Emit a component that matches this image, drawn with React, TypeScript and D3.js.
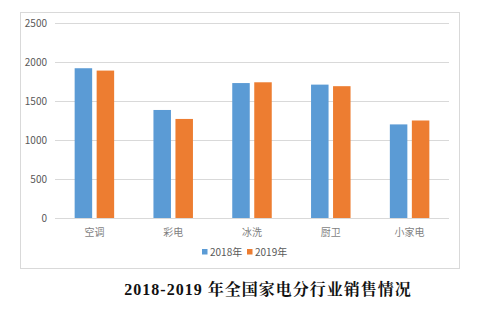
import React from "react";
import * as d3 from "d3";

const categories = ["空调", "彩电", "冰洗", "厨卫", "小家电"];
const series2018 = [1920, 1385, 1730, 1710, 1200];
const series2019 = [1890, 1270, 1740, 1690, 1250];
const seriesNames = ["2018年", "2019年"];
const yTicks = [0, 500, 1000, 1500, 2000, 2500];
const title = "2018-2019 年全国家电分行业销售情况";

const colors = ["#5B9BD5", "#ED7D31"];

export default function App() {
  const W = 498, H = 322;
  const left = 55, right = 449, top = 23, bottom = 218;
  const x0 = d3.scaleBand().domain(categories).range([left, right]).paddingInner(0).paddingOuter(0);
  const y = d3.scaleLinear().domain([0, 2500]).range([bottom, top]);
  const barW = 17.5;
  const gap = 4.5;
  const all = [series2018, series2019];
  const font = "'Microsoft YaHei', 'Noto Sans CJK SC', 'Noto Sans', sans-serif";
  return (
    <div style={{ position: "absolute", left: 0, top: 0 }}>
      <svg width={W} height={H} style={{ display: "block" }}>
        <rect x={0} y={0} width={W} height={H} fill="#fff" />
        <rect x={20.5} y={12.5} width={439} height={256} fill="#fff" stroke="#D9D9D9" strokeWidth={1} />
        {yTicks.map((t) => (
          <g key={t}>
            <line x1={left} x2={right} y1={Math.round(y(t)) + 0.5} y2={Math.round(y(t)) + 0.5} stroke="#D9D9D9" strokeWidth={1} />
            <text x={47} y={y(t)} dy="0.35em" textAnchor="end" fontSize={10} fill="#595959" fontFamily={font}>{t}</text>
          </g>
        ))}
        {categories.map((c, i) => {
          const cx = (x0(c) as number) + x0.bandwidth() / 2;
          return (
            <g key={c}>
              {all.map((s, k) => {
                const bx = k === 0 ? cx - gap / 2 - barW : cx + gap / 2;
                return (
                  <rect key={k} x={bx} y={y(s[i])} width={barW} height={y(0) - y(s[i])} fill={colors[k]} />
                );
              })}
              <text x={cx} y={232} dy="0.35em" textAnchor="middle" fontSize={10} fill="#7F7F7F" fontFamily={font}>{c}</text>
            </g>
          );
        })}
        <line x1={left} x2={right} y1={bottom + 0.5} y2={bottom + 0.5} stroke="#D9D9D9" />
        {seriesNames.map((n, k) => {
          const lx = 202 + k * 45;
          return (
            <g key={n}>
              <rect x={lx} y={249} width={5.5} height={5.5} fill={colors[k]} />
              <text x={lx + 8} y={252} dy="0.35em" fontSize={10} fill="#595959" fontFamily={font}>{n}</text>
            </g>
          );
        })}
        <text x={268} y={289} dy="0.35em" textAnchor="middle" fontSize={16} fontWeight="bold" fill="#111" letterSpacing={1} fontFamily="'Liberation Serif', 'Noto Serif CJK SC', 'Noto Sans CJK SC', serif">{title}</text>
      </svg>
    </div>
  );
}
